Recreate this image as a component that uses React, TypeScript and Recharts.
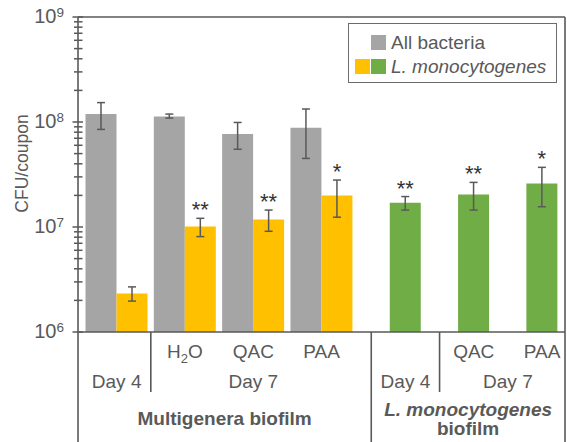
import React from 'react';
import {
  ComposedChart,
  Bar,
  XAxis,
  YAxis,
  CartesianGrid,
  ErrorBar,
  Cell,
  LabelList,
  Legend,
  ReferenceLine,
} from 'recharts';

// ---------- data ----------
const categories = ['MG Day 4', 'MG H2O', 'MG QAC', 'MG PAA', 'LM Day 4', 'LM QAC', 'LM PAA'];
const treatmentLabels = ['', 'H2O', 'QAC', 'PAA', '', 'QAC', 'PAA'];
const dayLabels = ['Day 4', 'Day 7', 'Day 7', 'Day 7', 'Day 4', 'Day 7', 'Day 7'];
const biofilmLabels = [
  'Multigenera biofilm',
  'Multigenera biofilm',
  'Multigenera biofilm',
  'Multigenera biofilm',
  'L. monocytogenes biofilm',
  'L. monocytogenes biofilm',
  'L. monocytogenes biofilm',
];
const allBacteria = [1.19e8, 1.13e8, 7.7e7, 8.8e7, null, null, null];
const allBacteriaLow = [8.5e7, 1.09e8, 5.5e7, 4.5e7, null, null, null];
const allBacteriaHigh = [1.53e8, 1.19e8, 9.9e7, 1.33e8, null, null, null];
const listeria = [2.33e6, 1.01e7, 1.18e7, 2.0e7, 1.7e7, 2.04e7, 2.6e7];
const listeriaLow = [1.97e6, 8.1e6, 9.1e6, 1.24e7, 1.45e7, 1.45e7, 1.56e7];
const listeriaHigh = [2.69e6, 1.21e7, 1.45e7, 2.8e7, 1.95e7, 2.66e7, 3.7e7];
const significance = ['', '**', '**', '*', '**', '**', '*'];
const majorTicks = [1e6, 1e7, 1e8, 1e9];
const minorMultipliers = [2, 3, 4, 5, 6, 7, 8, 9];
const gridValues = [1e7, 1e8];
const seriesNames = ['All bacteria', 'L. monocytogenes'];
const yAxisTitle = 'CFU/coupon';

// ---------- style / layout ----------
const FONT = '"Liberation Sans", Arial, Helvetica, sans-serif';
const TEXT = '#595959';
const AXIS = '#595959';
const GRAY = '#a5a5a5';
const YELLOW = '#ffc000';
const GREEN = '#70ad47';
const W = 567;
const H = 442;
const PLOT_L = 78;
const PLOT_R = 565;
const PLOT_T = 17;
const PLOT_B = 332;
const PAD_L = 4.5;
const PAD_R = 4.3;
const BAR = 31;
const N = categories.length;
const BW = (PLOT_R - PLOT_L - PAD_L - PAD_R) / N;
const Y_MIN = majorTicks[0];
const Y_MAX = majorTicks[majorTicks.length - 1];

const yTicks: number[] = [];
majorTicks.forEach((m, i) => {
  yTicks.push(m);
  if (i < majorTicks.length - 1) minorMultipliers.forEach((k) => yTicks.push(m * k));
});

const data = categories.map((c, i) => ({
  cat: c,
  all: allBacteria[i],
  allErr:
    allBacteria[i] == null
      ? null
      : [(allBacteria[i] as number) - (allBacteriaLow[i] as number), (allBacteriaHigh[i] as number) - (allBacteria[i] as number)],
  lis: listeria[i],
  lisErr: [listeria[i] - listeriaLow[i], listeriaHigh[i] - listeria[i]],
}));

const hasGray = (j: number) => allBacteria[j] != null;
const leftEdge = (xc: number, j: number) => xc - (hasGray(j) ? BAR : 0);
const rightEdge = (xc: number) => xc + BAR;

const renderTreatment = (label: string, x: number, y: number) => {
  if (label === 'H2O') {
    return (
      <text x={x} y={y} textAnchor="middle" fontSize={19} fill={TEXT} fontFamily={FONT}>
        H
        <tspan dy={5} fontSize={13}>
          2
        </tspan>
        <tspan dy={-5}>O</tspan>
      </text>
    );
  }
  return (
    <text x={x} y={y} textAnchor="middle" fontSize={19} fill={TEXT} fontFamily={FONT}>
      {label}
    </text>
  );
};

const XTick = (props: any) => {
  const { payload } = props;
  const i: number = props.index ?? payload.index;
  const xc: number = payload.coordinate ?? props.x;
  const y0: number = props.y;
  const center = (j: number) => xc + (j - i) * BW;
  const sepBefore = (j: number) => (rightEdge(center(j - 1)) + leftEdge(center(j), j)) / 2;
  const els: React.ReactNode[] = [];

  if (treatmentLabels[i]) {
    const tx = xc + (hasGray(i) ? 0 : BAR / 2);
    els.push(<g key="t">{renderTreatment(treatmentLabels[i], tx, y0 + 26)}</g>);
  }

  const dayStart = i === 0 || dayLabels[i] !== dayLabels[i - 1] || biofilmLabels[i] !== biofilmLabels[i - 1];
  if (dayStart) {
    let k = i;
    while (k + 1 < N && dayLabels[k + 1] === dayLabels[i] && biofilmLabels[k + 1] === biofilmLabels[i]) k++;
    const dx = (leftEdge(center(i), i) + rightEdge(center(k))) / 2;
    els.push(
      <text key="d" x={dx} y={y0 + 56} textAnchor="middle" fontSize={19} fill={TEXT} fontFamily={FONT}>
        {dayLabels[i]}
      </text>
    );
    if (i > 0) {
      const sx = sepBefore(i);
      const full = biofilmLabels[i] !== biofilmLabels[i - 1];
      els.push(
        <line key="s" x1={sx} x2={sx} y1={y0} y2={full ? H : y0 + 60} stroke={AXIS} strokeWidth={1.6} />
      );
    }
  }

  const bioStart = i === 0 || biofilmLabels[i] !== biofilmLabels[i - 1];
  if (bioStart) {
    let k = i;
    while (k + 1 < N && biofilmLabels[k + 1] === biofilmLabels[i]) k++;
    const lx = i === 0 ? PLOT_L : sepBefore(i);
    const rx = k === N - 1 ? PLOT_R : sepBefore(k + 1);
    const bx = (lx + rx) / 2;
    const label = biofilmLabels[i];
    const species = 'L. monocytogenes';
    if (label.startsWith(species)) {
      els.push(
        <text key="b1" x={bx} y={y0 + 84} textAnchor="middle" fontSize={19} fontWeight="bold" fontStyle="italic" fill={TEXT} fontFamily={FONT}>
          {species}
        </text>
      );
      els.push(
        <text key="b2" x={bx} y={y0 + 103} textAnchor="middle" fontSize={19} fontWeight="bold" fill={TEXT} fontFamily={FONT}>
          {label.slice(species.length).trim()}
        </text>
      );
    } else {
      els.push(
        <text key="b" x={bx} y={y0 + 93} textAnchor="middle" fontSize={19} fontWeight="bold" fill={TEXT} fontFamily={FONT}>
          {label}
        </text>
      );
    }
  }

  if (i === 0) {
    els.push(<line key="l" x1={PLOT_L} x2={PLOT_L} y1={y0} y2={H} stroke={AXIS} strokeWidth={1.6} />);
  }
  if (i === N - 1) {
    els.push(<line key="r" x1={PLOT_R} x2={PLOT_R} y1={y0} y2={H} stroke={AXIS} strokeWidth={1.6} />);
  }
  return <g>{els}</g>;
};

const YTick = (props: any) => {
  const { x, y, payload } = props;
  const v: number = payload.value;
  const exp = Math.round(Math.log10(v));
  const isMajor = Math.abs(v / Math.pow(10, exp) - 1) < 1e-6;
  if (isMajor) {
    const isFirst = v === Y_MIN;
    const tcx = x - 50;
    const tcy = (PLOT_T + PLOT_B) / 2 - 11;
    return (
      <g>
        <line x1={x - 5.5} x2={x + 5} y1={y} y2={y} stroke={AXIS} strokeWidth={1.5} />
        <text x={x - 14} y={y + 6} textAnchor="end" fontSize={20} fill={TEXT} fontFamily={FONT}>
          10
          <tspan dy={-6} fontSize={13.5}>
            {exp}
          </tspan>
        </text>
        {isFirst && (
          <text
            x={tcx}
            y={tcy}
            textAnchor="middle"
            fontSize={17.5}
            fill={TEXT}
            fontFamily={FONT}
            transform={`rotate(-90 ${tcx} ${tcy})`}
          >
            {yAxisTitle}
          </text>
        )}
      </g>
    );
  }
  return <line x1={x - 4} x2={x + 4.5} y1={y} y2={y} stroke={AXIS} strokeWidth={1.5} />;
};

const StarLabel = (props: any) => {
  const i: number = props.index;
  const s = significance[i];
  if (!s) return null;
  const vb = props.viewBox && props.viewBox.width != null ? props.viewBox : props;
  const x = Number(vb.x);
  const w = Number(vb.width);
  const h = Math.abs(Number(vb.height));
  const top = Math.min(Number(vb.y), Number(vb.y) + Number(vb.height));
  const v = listeria[i];
  const pxPerDecade = h / Math.log10(v / Y_MIN);
  const errTop = top - pxPerDecade * Math.log10(listeriaHigh[i] / v);
  return (
    <text x={x + w / 2} y={errTop - 1} textAnchor="middle" fontSize={22} fill="#333" fontFamily={FONT}>
      {s}
    </text>
  );
};

const LegendBox = () => (
  <div
    style={{
      width: 209,
      height: 60,
      border: '1.5px solid #6b6b6b',
      boxSizing: 'border-box',
      position: 'relative',
      background: '#fff',
      fontFamily: FONT,
      fontSize: 19,
      color: TEXT,
    }}
  >
    <div style={{ position: 'absolute', left: 22, top: 11, width: 15, height: 15, background: GRAY }} />
    <div style={{ position: 'absolute', left: 42, top: 8, lineHeight: '22px', whiteSpace: 'nowrap' }}>{seriesNames[0]}</div>
    <div style={{ position: 'absolute', left: 6, top: 35, width: 14.5, height: 15, background: YELLOW }} />
    <div style={{ position: 'absolute', left: 22, top: 35, width: 15, height: 15, background: GREEN }} />
    <div style={{ position: 'absolute', left: 42, top: 32, lineHeight: '22px', whiteSpace: 'nowrap', fontStyle: 'italic' }}>
      {seriesNames[1]}
    </div>
  </div>
);

export default function App() {
  return (
    <div style={{ position: 'absolute', left: 0, top: 0, width: W, height: H, background: '#fff' }}>
      <ComposedChart width={W} height={H} data={data} margin={{ top: PLOT_T, right: 0, bottom: 0, left: 0 }} barGap={0}>
        <CartesianGrid vertical={false} horizontalValues={gridValues} stroke="#c4c4c4" strokeWidth={1.3} />
        <XAxis
          dataKey="cat"
          height={H - PLOT_B}
          interval={0}
          tickLine={false}
          tickSize={0}
          tickMargin={0}
          padding={{ left: PAD_L, right: PAD_R }}
          axisLine={{ stroke: AXIS, strokeWidth: 1.6 }}
          tick={<XTick />}
        />
        <YAxis
          yAxisId="left"
          type="number"
          scale="log"
          domain={[Y_MIN, Y_MAX]}
          ticks={yTicks}
          interval={0}
          width={PLOT_L}
          tickLine={false}
          tickSize={0}
          tickMargin={0}
          allowDataOverflow
          axisLine={{ stroke: AXIS, strokeWidth: 1.6 }}
          tick={<YTick />}
        />
        <YAxis
          yAxisId="right"
          orientation="right"
          width={W - PLOT_R}
          tick={false}
          tickLine={false}
          axisLine={{ stroke: AXIS, strokeWidth: 1.6 }}
        />
        <ReferenceLine yAxisId="left" y={Y_MAX} stroke={AXIS} strokeWidth={1.6} />
        <Bar yAxisId="left" dataKey="all" name={seriesNames[0]} fill={GRAY} barSize={BAR} isAnimationActive={false}>
          <ErrorBar dataKey="allErr" width={4} stroke="#595959" strokeWidth={1.5} />
        </Bar>
        <Bar yAxisId="left" dataKey="lis" name={seriesNames[1]} fill={YELLOW} barSize={BAR} isAnimationActive={false}>
          {data.map((d, i) => (
            <Cell key={i} fill={biofilmLabels[i] === biofilmLabels[0] ? YELLOW : GREEN} />
          ))}
          <ErrorBar dataKey="lisErr" width={4} stroke="#595959" strokeWidth={1.5} />
          <LabelList dataKey="lis" content={<StarLabel />} />
        </Bar>
        <Legend
          layout="horizontal"
          verticalAlign="middle"
          align="center"
          wrapperStyle={{ left: 348, top: 23, width: 209, height: 60 }}
          content={<LegendBox />}
        />
      </ComposedChart>
    </div>
  );
}
